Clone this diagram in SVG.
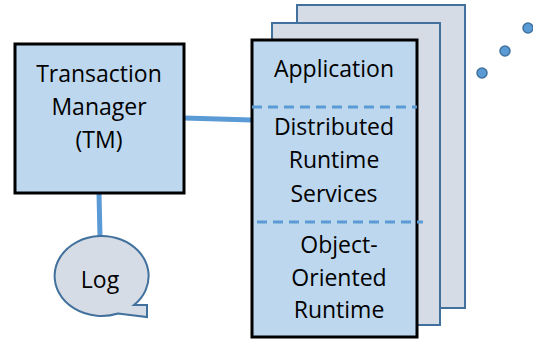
<svg xmlns="http://www.w3.org/2000/svg" width="533" height="341" viewBox="0 0 533 341">
<style>
.t{font-family:"Open Sans","Liberation Sans",sans-serif;font-size:23px;fill:#000;text-anchor:middle}
.page{fill:#d6dce5;stroke:#41719c;stroke-width:2}
.box{fill:#bdd7ee;stroke:#000;stroke-width:3}
.conn{stroke:#5b9bd5;stroke-width:5;fill:none}
.dash{stroke:#5b9bd5;stroke-width:3;stroke-dasharray:10 6;fill:none}
.dot{fill:#5b9bd5;stroke:#41719c;stroke-width:1.5}
</style>
<g id="pages">
<rect class="page" x="297" y="5" width="168" height="303"/>
<rect class="page" x="272" y="23" width="168" height="302"/>
</g>
<g id="dots">
<circle class="dot" cx="482" cy="73" r="5"/>
<circle class="dot" cx="505" cy="51" r="5"/>
<circle class="dot" cx="528" cy="28" r="5"/>
</g>
<g id="connectors">
<path class="conn" d="M184,118 L252,120"/>
<path class="conn" d="M99,193 L100,237"/>
</g>
<g id="tm">
<rect class="box" x="15" y="44" width="169" height="149"/>
<text class="t" x="99" y="82">Transaction</text>
<text class="t" x="99" y="115">Manager</text>
<text class="t" x="99" y="148">(TM)</text>
</g>
<g id="app">
<rect class="box" x="252" y="40" width="165" height="297"/>
<path class="dash" d="M252,107 H417"/>
<path class="dash" d="M257,222 H423"/>
<text class="t" x="334" y="77">Application</text>
<text class="t" x="334" y="135">Distributed</text>
<text class="t" x="334" y="168">Runtime</text>
<text class="t" x="334" y="202">Services</text>
<text class="t" x="339" y="253">Object-</text>
<text class="t" x="339" y="286">Oriented</text>
<text class="t" x="339" y="318">Runtime</text>
</g>
<g id="log">
<path d="M134,305 A47,40 0 1 0 118,313.5 L147,317 L147,305 Z" fill="#d6dce5" stroke="#41719c" stroke-width="2"/>
<text class="t" x="100" y="288">Log</text>
</g>
</svg>
